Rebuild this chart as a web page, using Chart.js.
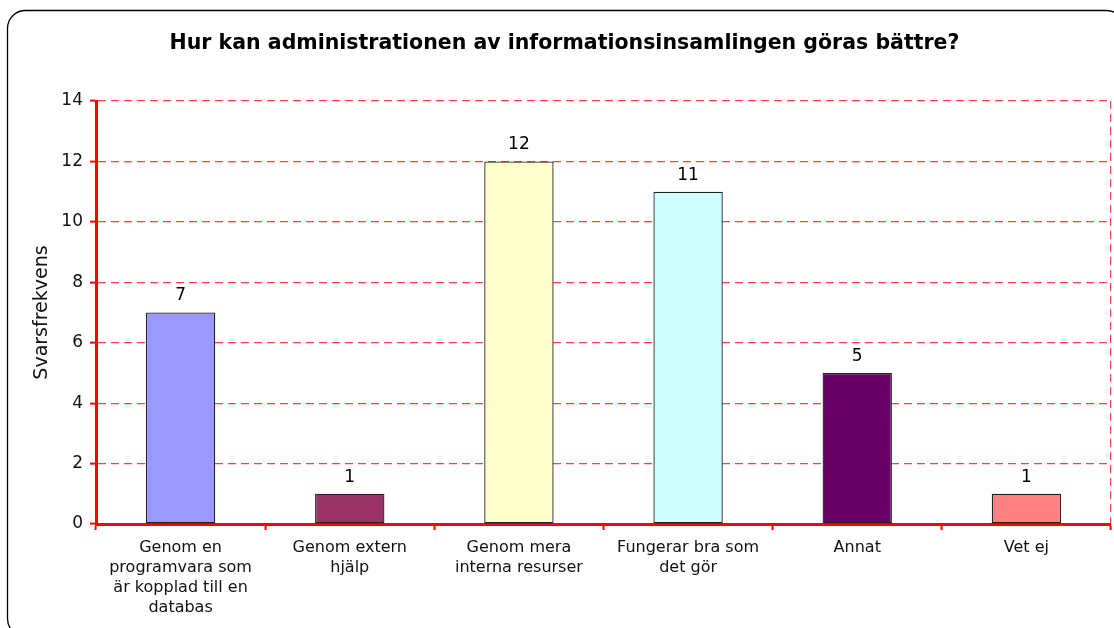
<!DOCTYPE html>
<html>
<head>
<meta charset="utf-8">
<script src="https://cdn.jsdelivr.net/npm/chart.js@4.4.1/dist/chart.umd.min.js"></script>
<style>
html,body{margin:0;padding:0;background:#fff;}
#wrap{width:1114px;height:628px;position:relative;}
</style>
</head>
<body>
<div id="wrap"><canvas id="c" width="1114" height="628"></canvas></div>
<script>
const categories = [
  ["Genom en","programvara som","är kopplad till en","databas"],
  ["Genom extern","hjälp"],
  ["Genom mera","interna resurser"],
  ["Fungerar bra som","det gör"],
  "Annat",
  "Vet ej"
];
const values = [7, 1, 12, 11, 5, 1];
const barColors = ["#9999FF", "#993366", "#FFFFCC", "#CCFFFF", "#660066", "#FF8080"];
const yTicks = [0, 2, 4, 6, 8, 10, 12, 14];
const titleText = "Hur kan administrationen av informationsinsamlingen göras bättre?";
const yTitle = "Svarsfrekvens";

const FONT = "'DejaVu Sans', Verdana, sans-serif";
const GRID_RED = 'rgba(255,30,30,0.85)';

const frame = {
  id: 'frame',
  beforeDraw(chart) {
    const ctx = chart.ctx;
    ctx.save();
    ctx.fillStyle = '#fff';
    ctx.fillRect(0, 0, chart.width, chart.height);
    ctx.beginPath();
    ctx.roundRect(7.5, 10.5, 1117, 626, 18);
    ctx.strokeStyle = '#000';
    ctx.lineWidth = 1.3;
    ctx.stroke();
    ctx.restore();
  }
};

const valueLabels = {
  id: 'valueLabels',
  afterDatasetsDraw(chart) {
    const ctx = chart.ctx;
    const meta = chart.getDatasetMeta(0);
    ctx.save();
    ctx.font = "17px " + FONT;
    ctx.fillStyle = '#000';
    ctx.textAlign = 'center';
    ctx.textBaseline = 'bottom';
    meta.data.forEach((bar, i) => {
      ctx.fillText(String(values[i]), bar.x, bar.y - 8);
    });
    ctx.restore();
  }
};

new Chart(document.getElementById('c'), {
  type: 'bar',
  data: {
    labels: categories,
    datasets: [{
      data: values,
      backgroundColor: barColors,
      borderColor: '#222',
      borderWidth: 1.3,
      borderSkipped: false,
      categoryPercentage: 1,
      barPercentage: 0.41
    }]
  },
  plugins: [frame, valueLabels],
  options: {
    responsive: false,
    animation: false,
    devicePixelRatio: 1,
    layout: { padding: { left: 18, right: 3, top: 0, bottom: 0 } },
    plugins: {
      legend: { display: false },
      tooltip: { enabled: false },
      title: {
        display: true,
        text: titleText,
        color: '#000',
        font: { family: FONT, size: 20.5, weight: 'bold', lineHeight: 1.2 },
        padding: { top: 31, bottom: 45.4 }
      }
    },
    scales: {
      x: {
        offset: true,
        afterFit(scale) { scale.height = 104; },
        border: { color: '#FF0000', width: 3, dash: [8, 5] },
        grid: {
          offset: true,
          drawOnChartArea: true,
          color: (c) => (c.type === 'scale' ? GRID_RED : 'rgba(0,0,0,0)'),
          lineWidth: 1.2,
          tickColor: '#FF0000',
          tickLength: 6,
          tickWidth: 2,
          tickBorderDash: []
        },
        ticks: {
          color: '#111',
          font: { family: FONT, size: 16, lineHeight: 1.25 },
          padding: 8,
          maxRotation: 0,
          autoSkip: false
        }
      },
      y: {
        min: 0,
        max: 14,
        afterFit(scale) { scale.width = 78; },
        afterBuildTicks(scale) { scale.ticks = yTicks.map(v => ({ value: v })); },
        border: { color: '#FF0000', width: 3, dash: [8, 5] },
        grid: {
          color: GRID_RED,
          lineWidth: 1.2,
          tickColor: '#FF0000',
          tickLength: 6,
          tickWidth: 2,
          tickBorderDash: []
        },
        ticks: {
          color: '#111',
          font: { family: FONT, size: 17 },
          padding: 7
        },
        title: {
          display: true,
          text: yTitle,
          color: '#111',
          font: { family: FONT, size: 19, lineHeight: 1.2 },
          padding: { top: 13, bottom: 0 }
        }
      }
    }
  }
});
</script>
</body>
</html>
